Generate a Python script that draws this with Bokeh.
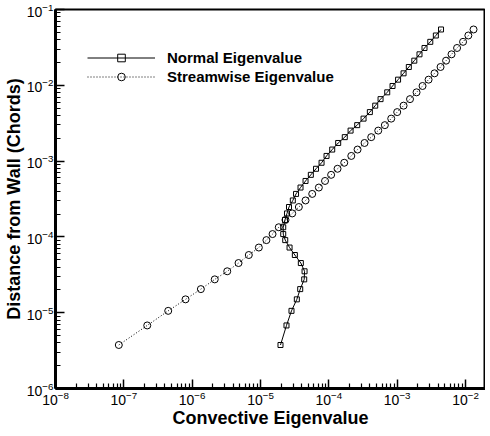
from bokeh.plotting import figure
from bokeh.models import Legend, LegendItem, FixedTicker, LogTickFormatter
from bokeh.embed import file_html
from bokeh.resources import INLINE

# Distance from wall (Chords) - shared grid for both series
y_dist = [3.75e-6, 6.79e-6, 1.058e-5, 1.50e-5, 2.047e-5, 2.752e-5, 3.518e-5, 4.52e-5,
          5.77e-5, 7.24e-5, 9.07e-5, 1.09e-4, 1.34e-4, 1.674e-4, 2.04e-4, 2.48e-4,
          3.025e-4, 3.69e-4, 4.48e-4, 5.47e-4, 6.59e-4, 7.92e-4, 9.51e-4, 1.17e-3,
          1.42e-3, 1.734e-3, 2.07e-3, 2.525e-3, 2.98e-3, 3.634e-3, 4.43e-3, 5.39e-3,
          6.57e-3, 8.08e-3, 9.79e-3, 1.187e-2, 1.439e-2, 1.744e-2, 2.114e-2, 2.563e-2,
          3.107e-2, 3.744e-2, 4.54e-2, 5.45e-2]

normal_eig = [1.96e-5, 2.40e-5, 2.84e-5, 3.40e-5, 3.81e-5, 4.36e-5, 4.41e-5, 3.89e-5,
              3.18e-5, 2.66e-5, 2.30e-5, 2.15e-5, 2.15e-5, 2.28e-5, 2.44e-5, 2.61e-5,
              2.97e-5, 3.31e-5, 3.85e-5, 4.56e-5, 5.45e-5, 6.49e-5, 7.82e-5, 9.25e-5,
              1.12e-4, 1.37e-4, 1.71e-4, 2.08e-4, 2.60e-4, 3.22e-4, 3.98e-4, 4.77e-4,
              5.71e-4, 7.15e-4, 8.55e-4, 1.03e-3, 1.24e-3, 1.48e-3, 1.78e-3, 2.12e-3,
              2.51e-3, 3.05e-3, 3.68e-3, 4.38e-3]

stream_eig = [8.44e-8, 2.20e-7, 4.46e-7, 7.99e-7, 1.34e-6, 2.14e-6, 3.26e-6, 4.77e-6,
              6.74e-6, 9.45e-6, 1.22e-5, 1.50e-5, 1.85e-5, 2.32e-5, 2.91e-5, 3.64e-5,
              4.56e-5, 5.71e-5, 7.14e-5, 8.79e-5, 1.08e-4, 1.34e-4, 1.68e-4, 2.13e-4,
              2.63e-4, 3.33e-4, 4.17e-4, 5.28e-4, 6.60e-4, 8.18e-4, 1.00e-3, 1.24e-3,
              1.54e-3, 1.92e-3, 2.35e-3, 2.88e-3, 3.52e-3, 4.31e-3, 5.19e-3, 6.24e-3,
              7.52e-3, 9.20e-3, 1.10e-2, 1.31e-2]

x_major = [1e-8, 1e-7, 1e-6, 1e-5, 1e-4, 1e-3, 1e-2]
y_major = [1e-6, 1e-5, 1e-4, 1e-3, 1e-2, 1e-1]
x_minor = [m * t for t in x_major for m in range(2, 10)]
y_minor = [m * t for t in y_major[:-1] for m in range(2, 10)]

FONT = "Liberation Sans"

p = figure(frame_width=430, frame_height=379, x_axis_type="log", y_axis_type="log",
           x_range=(1e-8, 0.0196), y_range=(1e-6, 1e-1),
           output_backend="svg", toolbar_location=None,
           min_border_left=47, min_border_top=9, min_border_right=0, min_border_bottom=30)

p.xgrid.visible = False
p.ygrid.visible = False
p.outline_line_color = "black"
p.outline_line_width = 2
p.outline_line_alpha = 1.0

p.xaxis.ticker = FixedTicker(ticks=x_major, minor_ticks=x_minor)
p.yaxis.ticker = FixedTicker(ticks=y_major, minor_ticks=y_minor)
for ax in (p.xaxis[0], p.yaxis[0]):
    ax.formatter = LogTickFormatter()
    ax.axis_line_width = 3
    ax.axis_line_color = "black"
    ax.major_tick_in = 9
    ax.major_tick_out = 0
    ax.minor_tick_in = 5
    ax.minor_tick_out = 0
    ax.major_tick_line_width = 1.5
    ax.minor_tick_line_width = 1.2
    ax.major_tick_line_color = "black"
    ax.minor_tick_line_color = "black"
    ax.major_label_text_font = FONT
    ax.major_label_text_font_size = "14px"
    ax.major_label_text_color = "black"
    ax.major_label_standoff = 2
    ax.axis_label_text_font = FONT
    ax.axis_label_text_font_size = "18px"
    ax.axis_label_text_font_style = "bold"
    ax.axis_label_text_color = "black"
    ax.axis_label_standoff = 0

p.xaxis.axis_label = "Convective Eigenvalue"
p.yaxis.axis_label = "Distance from Wall (Chords)"

ln_n = p.line(normal_eig, y_dist, line_color="black", line_width=1)
sc_n = p.scatter(normal_eig, y_dist, marker="square", size=5, line_color="black",
                 fill_color=None, line_width=1)
ln_s = p.line(stream_eig, y_dist, line_color="black", line_width=1, line_dash="1 2")
sc_s = p.scatter(stream_eig, y_dist, marker="circle", size=7, line_color="black",
                 fill_color=None, line_width=1)

legend = Legend(items=[LegendItem(label="Normal Eigenvalue", renderers=[ln_n, sc_n]),
                       LegendItem(label="Streamwise Eigenvalue", renderers=[ln_s, sc_s])],
                location=(32, 302), orientation="vertical",
                glyph_width=68, glyph_height=19, label_height=19, spacing=0,
                padding=0, margin=0, label_standoff=12,
                label_text_font=FONT, label_text_font_size="15px",
                label_text_font_style="bold", label_text_color="black",
                border_line_color=None, background_fill_alpha=0)
p.add_layout(legend, "center")

open("out.html", "w").write(file_html(p, INLINE))
